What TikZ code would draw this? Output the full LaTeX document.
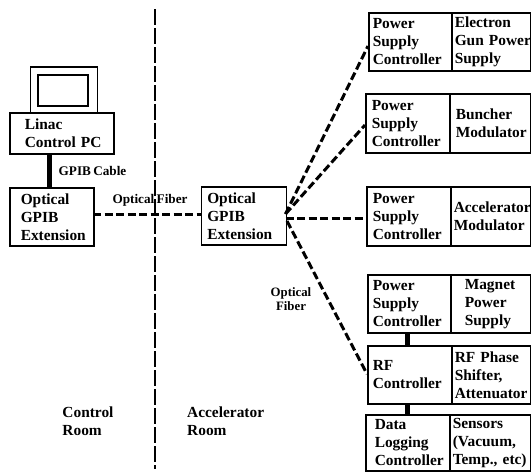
\documentclass[tikz,border=0pt]{standalone}
\usepackage{fontspec}
\setmainfont{Liberation Serif}
\newcommand{\bigfont}{\fontsize{15.4}{18}\selectfont\bfseries\spaceskip=0.18em\relax}
\newcommand{\smallfont}{\fontsize{13.2}{14}\selectfont\bfseries\spaceskip=0.18em\relax}
\begin{document}
\begin{tikzpicture}[x=1pt,y=-1pt,
  box/.style={draw,line width=1.5pt,rectangle,inner sep=0pt,anchor=north west},
  cell/.style n args={3}{box,minimum width=#1,minimum height=#2,text width=#1,inner xsep=0pt,font=\bigfont,
     execute at begin node={\leftskip=#3\rightskip=0pt plus 1fill\relax}},
  fiber/.style={line width=3pt,dash pattern=on 8pt off 3.5pt},
  divider/.style={line width=1.4pt,dash pattern=on 16pt off 3pt},
  cable/.style={line width=5pt},
  lab/.style={font=\bigfont,align=left,inner sep=0pt},
  small/.style={font=\smallfont,align=center,inner sep=0pt}]
\useasboundingbox (0,0) rectangle (531,472);
% divider
\coordinate (dtop) at (155,9);
\coordinate (dbot) at (155,469);
\draw[divider] (dtop) -- (dbot);
% computer
\node[box,minimum width=67pt,minimum height=46pt] (mon) at (29.5,66) {};
\node[box,minimum width=50pt,minimum height=31pt] (scr) at (37,74) {};
\node[cell={104pt}{41pt}{15pt}] (pc) at (9,112) {Linac\\Control PC};
\node[cell={84pt}{58pt}{11pt}] (ext1) at (9,187) {Optical\\GPIB\\Extension};
\node[cell={85pt}{58pt}{6pt}] (ext2) at (200.5,186) {Optical\\GPIB\\Extension};
% right column
\node[cell={83pt}{58pt}{4pt}] (c1) at (368,12) {Power\\Supply\\Controller};
\node[cell={79pt}{58pt}{3pt}] (d1) at (451,12) {Electron\\\mbox{Gun Power}\\Supply};
\node[cell={84pt}{59pt}{6pt}] (c2) at (365,93) {Power\\Supply\\Controller};
\node[cell={81pt}{59pt}{6pt}] (d2) at (449,93) {Buncher\\Modulator};
\node[cell={84pt}{59pt}{6pt}] (c3) at (366,186) {Power\\Supply\\Controller};
\node[cell={80pt}{59pt}{3pt}] (d3) at (450,186) {Accelerator\\Modulator};
\node[cell={83pt}{58pt}{5pt}] (c4) at (367,274) {Power\\Supply\\Controller};
\node[cell={80pt}{58pt}{14pt}] (d4) at (450,274) {Magnet\\Power\\Supply};
\node[cell={84pt}{58pt}{5pt}] (c5) at (367,345) {RF\\Controller};
\node[cell={79pt}{58pt}{3pt}] (d5) at (451,345) {RF Phase\\Shifter,\\Attenuator};
\node[cell={84pt}{56pt}{9pt}] (c6) at (365,414) {Data\\Logging\\Controller};
\node[cell={81pt}{56pt}{3pt}] (d6) at (449,414) {Sensors\\(Vacuum,\\\mbox{Temp., etc)}};
% cables
\draw[cable] (pc.south -| 49,0) -- (ext1.north -| 49,0);
\draw[cable] (c4.south -| 407,0) -- (c5.north -| 407,0);
\draw[cable] (c5.south -| 407,0) -- (c6.north -| 407,0);
% fibres
\coordinate (l) at (93,214);
\coordinate (r) at (200.5,214);
\coordinate (hub) at (285.5,214);
\coordinate (hubm) at (285.5,218);
\coordinate (hubb) at (287,221);
\coordinate (t1) at (368,46);
\coordinate (t2) at (365,125);
\coordinate (t3) at (366,218);
\coordinate (t5) at (367,374);
\draw[fiber] (l) -- (r);
\draw[fiber] (hub) -- (t1);
\draw[fiber] (hub) -- (t2);
\draw[fiber] (hubm) -- (t3);
\draw[fiber] (hubb) -- (t5);
% labels
\node[small] (lg) at (92.5,171) {GPIB Cable};
\node[small] (lf) at (150,200) {Optical Fiber};
\node[small,font=\fontsize{12.8}{14}\selectfont\bfseries] (lf2) at (291,299) {Optical\\Fiber};
\node[lab,anchor=north] (lc) at (88,407) {Control\\Room};
\node[lab,anchor=north west] (la) at (187,407) {Accelerator\\Room};
\end{tikzpicture}
\end{document}
